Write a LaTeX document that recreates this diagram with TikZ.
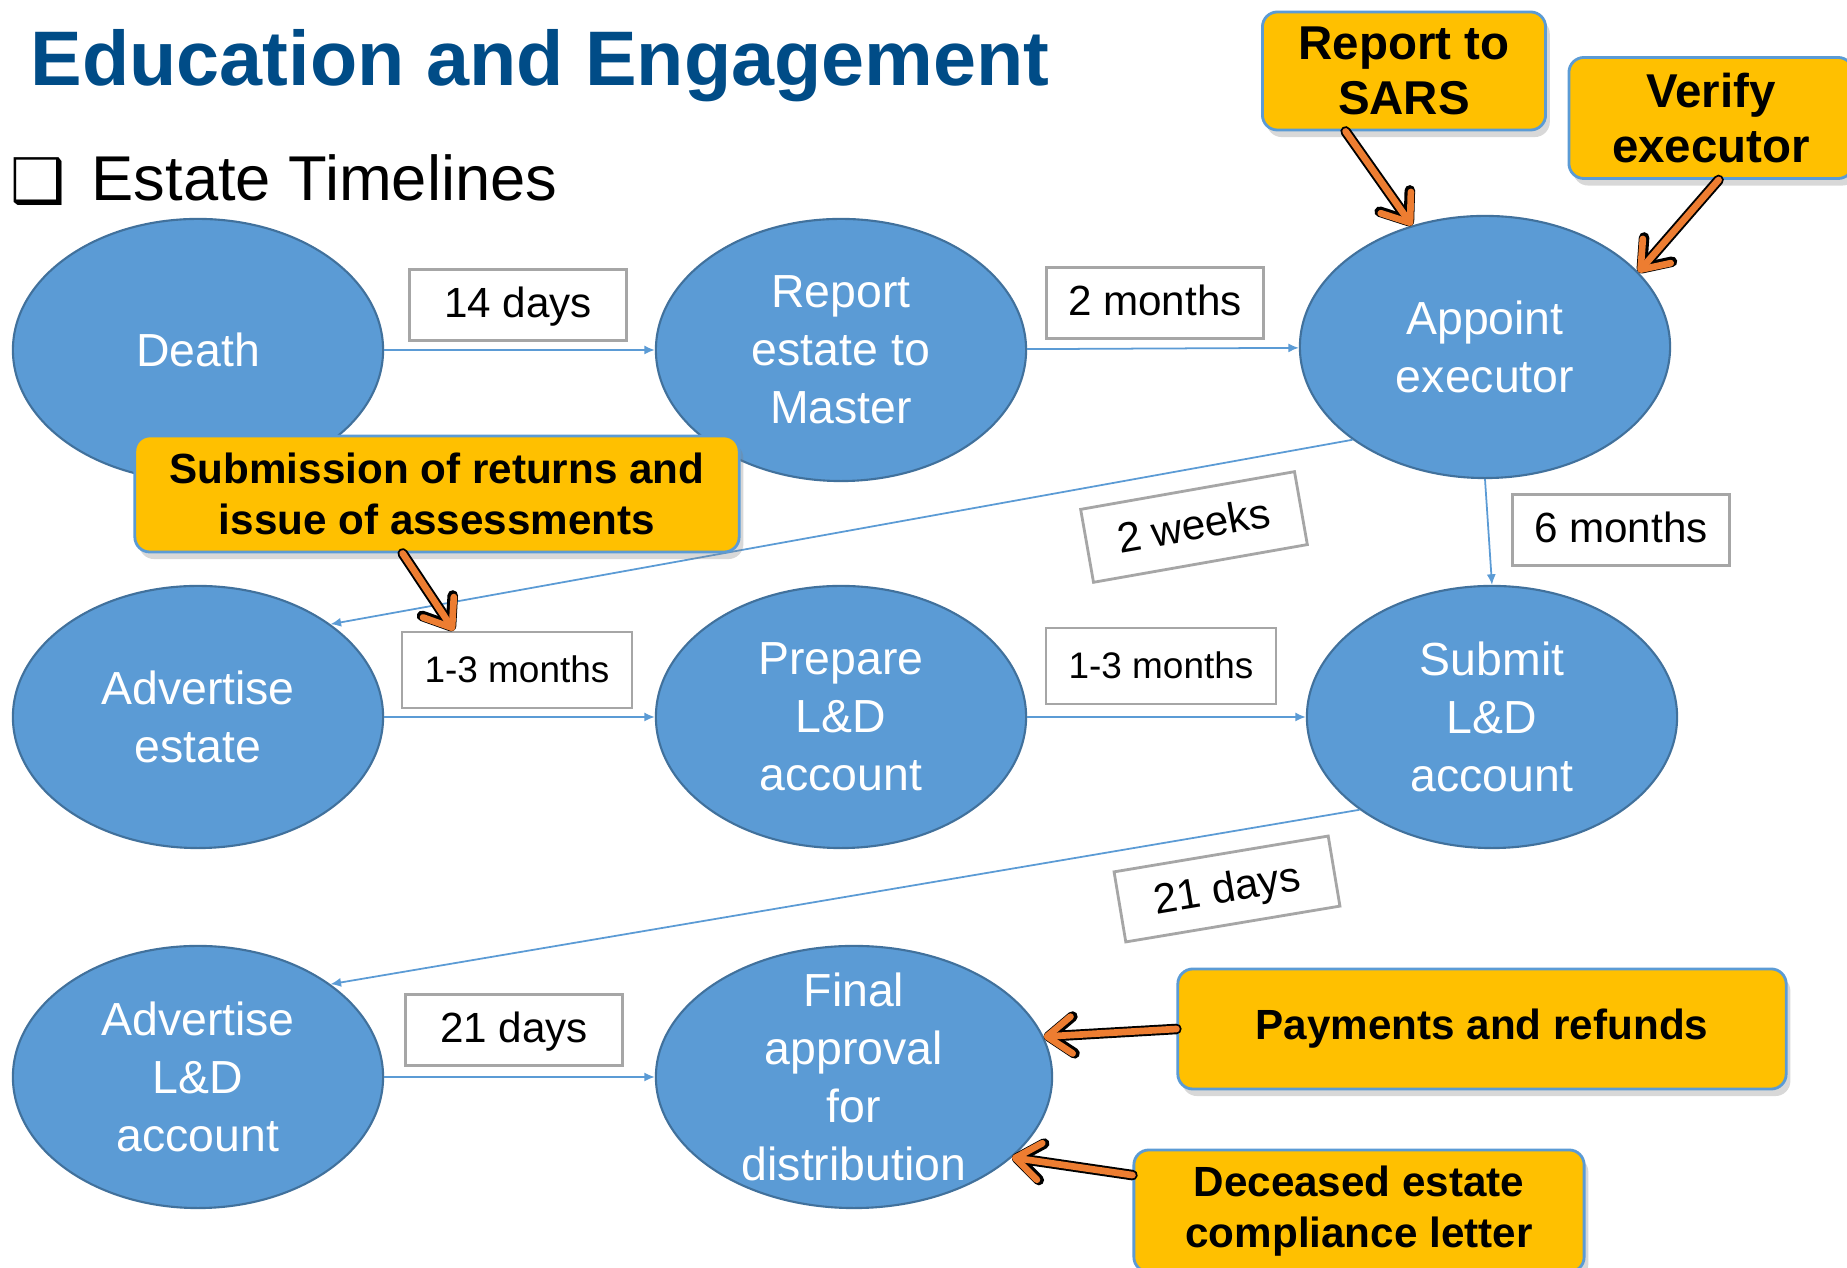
\documentclass[tikz,border=0pt]{standalone}
\usepackage{fontspec}
\setmainfont{Liberation Sans}
\newfontfamily\dejavu{DejaVu Sans}
\usetikzlibrary{shapes.geometric,arrows.meta,shadows}
\definecolor{stagefill}{HTML}{5B9BD5}
\definecolor{stageline}{HTML}{41719C}
\definecolor{titleblue}{RGB}{0,76,135}
\definecolor{noteyellow}{HTML}{FFC000}
\definecolor{noteline}{HTML}{5B9BD5}
\definecolor{boxgray}{HTML}{A6A6A6}
\definecolor{pointerorange}{HTML}{ED7D31}

\begin{document}
\begin{tikzpicture}[x=0.01cm, y=-0.01cm,
  stage/.style={ellipse, fill=stagefill, draw=stageline, line width=0.6pt,
    minimum width=3.7cm, minimum height=2.62cm, inner sep=0pt},
  stagetext/.style={text=white, align=center, inner sep=0pt,
    font=\fontsize{13.2}{16.5}\selectfont},
  timebox/.style={draw=boxgray, line width=0.8pt, fill=white, text height=0.95em, text depth=0.21em,
    minimum width=2.17cm, minimum height=0.71cm, font=\fontsize{12}{14}\selectfont},
  widebox/.style={timebox, minimum width=2.3cm, minimum height=0.76cm,
    font=\fontsize{10.5}{12}\selectfont},
  note/.style={draw=noteline, line width=0.8pt, fill=noteyellow, rounded corners=0.15cm,
    align=center, font=\bfseries\fontsize{12}{14.5}\selectfont,
    drop shadow={shadow xshift=1.2pt, shadow yshift=-2pt, opacity=0.3}},
  bignote/.style={note, font=\bfseries\fontsize{13.5}{15.5}\selectfont},
  flow/.style={draw=stagefill, line width=0.5pt, -{Latex[length=3pt,width=2.6pt]}},
  pointer/.style={draw=pointerorange, line width=1.9pt, line cap=round,
    -{Straight Barb[length=7pt,width=10.5pt,round]},
    preaction={draw=black, line width=3pt, line cap=round,
      -{Straight Barb[length=7pt,width=10.5pt,round]}}}]

\useasboundingbox (0,0) rectangle (1847,1268);
\fill[white] (0,0) rectangle (1847,1268);

\node[anchor=base west, inner sep=0pt, text=titleblue,
  font=\bfseries\fontsize{22}{26}\selectfont] (title) at (30,86) {Education and Engagement};
\node[anchor=base west, inner sep=0pt, font=\dejavu\fontsize{17.5}{20}\selectfont] (bullet) at (10,203) {❑};
\node[anchor=base west, inner sep=0pt, font=\fontsize{18}{21}\selectfont] (subtitle) at (91,201) {Estate Timelines};

\node[stage] (death) at (198,350) {};
\node[stagetext] (death-t) at (death) {Death};
\node[stage] (master) at (841,350) {};
\node[stagetext] (master-t) at (master) {Report\\estate to\\Master};
\node[stage] (exec) at (1485,347) {};
\node[stagetext] (exec-t) at (exec) {Appoint\\executor};

\node[stage] (advest) at (198,717) {};
\node[stagetext] (advest-t) at (advest) {Advertise\\estate};
\node[stage] (prep) at (841,717) {};
\node[stagetext] (prep-t) at (prep) {Prepare\\L\&D\\account};
\node[stage] (submit) at (1492,717) {};
\node[stagetext] (submit-t) at (submit) {Submit\\L\&D\\account};

\node[stage] (advld) at (198,1077) {};
\node[stagetext] (advld-t) at (advld) {Advertise\\L\&D\\account};
\node[stage, minimum width=3.96cm] (final) at (854,1077) {};
\node[stagetext] (final-t) at (final) {Final\\approval\\for\\distribution};

\draw[flow] (death) -- (master);
\draw[flow] (master) -- (exec);
\draw[flow] (exec.south) -- (submit.north);
\draw[flow] (exec.215) -- (advest.35);
\draw[flow] (advest) -- (prep);
\draw[flow] (prep) -- (submit);
\draw[flow] (submit.215) -- (advld.35);
\draw[flow] (advld) -- (final);

\node[timebox] (days14) at (518,305) {14 days};
\node[timebox] (months2) at (1155,303) {2 months};
\node[timebox] (months6) at (1621,530) {6 months};
\node[timebox, rotate=10, minimum height=0.74cm] (weeks2) at (1194,527) {2 weeks};
\node[widebox] (months13a) at (517,670) {1-3 months};
\node[widebox] (months13b) at (1161,666) {1-3 months};
\node[timebox, rotate=9.5] (days21a) at (1227,889) {21 days};
\node[timebox] (days21b) at (514,1030) {21 days};

\node[bignote, minimum width=2.83cm, minimum height=1.18cm] (sars) at (1404,71) {Report to\\SARS};
\node[bignote, minimum width=2.84cm, minimum height=1.21cm] (verify) at (1711,118) {Verify\\executor};
\node[note, minimum width=6.04cm, minimum height=1.16cm] (returns) at (437,494) {Submission of returns and\\issue of assessments};
\node[note, minimum width=6.08cm, minimum height=1.2cm] (pay) at (1482,1029) {Payments and refunds};
\node[note, minimum width=4.5cm, minimum height=1.22cm] (dcl) at (1359,1211) {Deceased estate\\compliance letter};

\draw[pointer] (sars.226) -- (exec.121);
\draw[pointer] (verify.-83) -- (exec.26);
\draw[pointer] (returns.240) -- (months13a.148);
\draw[pointer] (pay.west) -- (final.12);
\draw[pointer] (dcl.171) -- (final.-27);

\end{tikzpicture}
\end{document}
